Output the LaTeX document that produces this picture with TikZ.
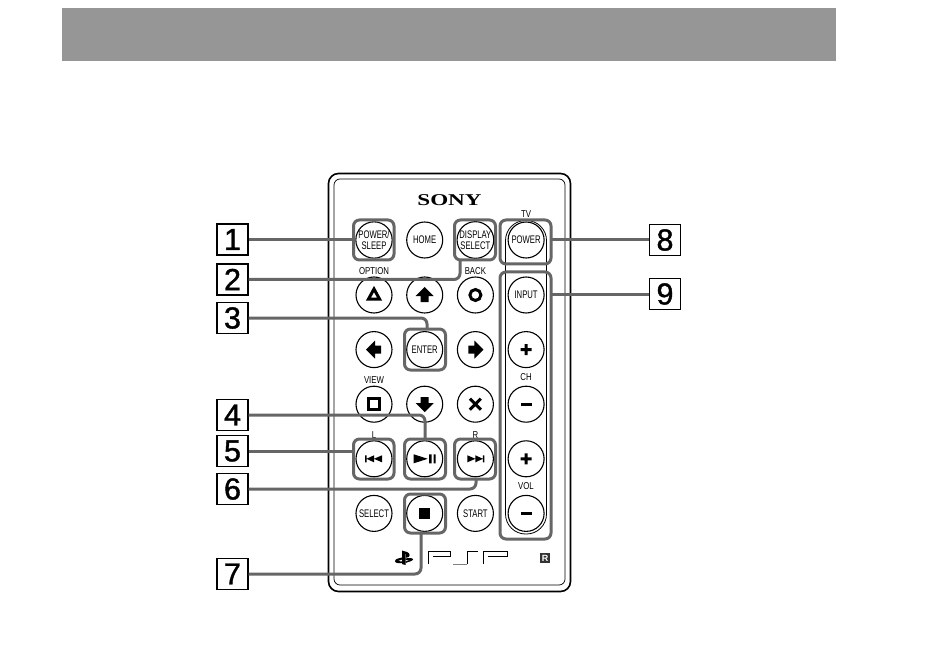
\documentclass[tikz,border=0pt]{standalone}
\usepackage{fontspec}
\setmainfont{Liberation Sans}
\setsansfont[FakeStretch=.7]{Liberation Sans}
\newfontfamily\captfont[FakeStretch=.78]{Liberation Sans}
\newfontfamily\numfont[FakeBold=1.2]{Liberation Sans}
\newfontfamily\logofont[FakeStretch=1.4]{Liberation Serif}
\usetikzlibrary{positioning}
\definecolor{bandgray}{HTML}{969696}
\definecolor{markgray}{HTML}{666666}
\tikzset{
    btn/.style={draw, line width=1.1pt, circle, minimum size=36pt, inner sep=0pt,
        align=center, font=\sffamily\fontsize{11}{10.5}\selectfont},
    capt/.style={font=\captfont\fontsize{10}{10}\selectfont, inner sep=0pt},
    num/.style={draw, line width=1.1pt, minimum size=31pt, inner sep=0pt,
        font=\numfont\fontsize{30.5}{30.5}\selectfont},
    markbox/.style={draw=markgray, line width=3pt, rounded corners=6pt},
    lead/.style={draw=markgray, line width=3pt, rounded corners=6pt},
    glyph/.style={fill=black, draw=none}
}
\begin{document}
\begin{tikzpicture}[x=1pt, y=-1pt, on grid, node distance=54.6pt and 50.7pt]
    \useasboundingbox (0,0) rectangle (950,652);
    % band
    \fill[bandgray] (62,8) rectangle (836,61);
    % body
    \draw[line width=1.6pt, rounded corners=10pt] (328.5,173.5) rectangle (570.5,591.5);
    \draw[line width=.7pt, rounded corners=6pt] (334,179) rectangle (565,585);
    \draw[line width=.8pt, rounded corners=20pt] (505.5,220.5) rectangle (546.5,534);
    \node[font=\logofont\bfseries\fontsize{16.5}{16.5}\selectfont, inner sep=0pt] (sony) at (449.5,200) {SONY};
    % buttons
    \node[btn] (sleep) at (374,240) {POWER/\\SLEEP};
    \node[btn, right=of sleep] (home) {HOME};
    \node[btn, right=of home] (display) {DISPLAY\\SELECT};
    \node[btn, right=of display] (power) {POWER};
    \node[btn] (tri) at (374,295) {};
    \node[btn, right=of tri] (up) {};
    \node[btn, right=of up] (circ) {};
    \node[btn, right=of circ] (input) {INPUT};
    \node[btn, below=of tri] (left) {};
    \node[btn, right=of left] (enter) {ENTER};
    \node[btn, right=of enter] (right) {};
    \node[btn, right=of right] (chup) {};
    \node[btn, below=of left] (squ) {};
    \node[btn, right=of squ] (down) {};
    \node[btn, right=of down] (cross) {};
    \node[btn, right=of cross] (chdn) {};
    \node[btn, below=of squ] (prev) {};
    \node[btn, right=of prev] (play) {};
    \node[btn, right=of play] (next) {};
    \node[btn, right=of next] (volup) {};
    \node[btn, below=of prev] (select) {SELECT};
    \node[btn, right=of select] (stop) {};
    \node[btn, right=of stop] (start) {START};
    \node[btn, right=of start] (voldn) {};
    % captions
    \node[capt, above=24pt of tri] (option) {OPTION};
    \node[capt, above=24pt of circ] (back) {BACK};
    \node[capt] (tv) at (526,214) {TV};
    \node[capt, above=24pt of squ] (view) {VIEW};
    \node[capt, above=24pt of prev] (lbl) {L};
    \node[capt, above=24pt of next] (rbl) {R};
    \node[capt] (ch) at (526,377) {CH};
    \node[capt] (vol) at (526,486) {VOL};
    % glyphs
    \draw[line width=3pt, miter limit=10, shift={(tri)}] (0,-6) -- (5.5,4) -- (-5.5,4) -- cycle;
    \fill[glyph, shift={(up)}] (0,-8) -- (9,1) -- (4,1) -- (4,7) -- (-4,7) -- (-4,1) -- (-9,1) -- cycle;
    \draw[line width=3pt, shift={(circ)}] (0,0) circle (5.5pt);
    \fill[glyph, shift={(left)}] (-8,0) -- (1,-9) -- (1,-4) -- (7,-4) -- (7,4) -- (1,4) -- (1,9) -- cycle;
    \fill[glyph, shift={(right)}] (8,0) -- (-1,-9) -- (-1,-4) -- (-7,-4) -- (-7,4) -- (-1,4) -- (-1,9) -- cycle;
    \draw[line width=3pt, shift={(squ)}] (-5.5,-5.5) rectangle (5.5,5.5);
    \fill[glyph, shift={(down)}] (0,8) -- (9,-1) -- (4,-1) -- (4,-7) -- (-4,-7) -- (-4,-1) -- (-9,-1) -- cycle;
    \draw[line width=3pt, shift={(cross)}] (-5.5,-5.5) -- (5.5,5.5) (-5.5,5.5) -- (5.5,-5.5);
    \fill[glyph, shift={(prev)}] (-9,-3.5) rectangle (-7.5,3.5) (-7.5,0) -- (0,-3.5) -- (0,3.5) -- cycle (0,0) -- (8,-3.5) -- (8,3.5) -- cycle;
    \fill[glyph, shift={(play)}] (-11,-4.5) -- (3,0) -- (-11,4.5) -- cycle (4.5,-4.5) rectangle (6.8,4.5) (8.8,-4.5) rectangle (11,4.5);
    \fill[glyph, shift={(next)}] (9,-3.5) rectangle (7.5,3.5) (7.5,0) -- (0,-3.5) -- (0,3.5) -- cycle (0,0) -- (-8,-3.5) -- (-8,3.5) -- cycle;
    \fill[glyph, shift={(stop)}] (-5.5,-5.5) rectangle (5.5,5.5);
    \foreach \nd in {chup,volup}
        \fill[glyph, shift={(\nd)}] (-5.5,-1.5) rectangle (5.5,1.5) (-1.5,-5.5) rectangle (1.5,5.5);
    \foreach \nd in {chdn,voldn}
        \fill[glyph, shift={(\nd)}] (-5.5,-1.5) rectangle (5.5,1.5);
    % logo
    \fill[glyph] (402,550.5) -- (407,552) .. controls (410.5,553) and (410.5,557.5) .. (407,557.5) -- (406,557.5) -- (406,553.8) -- (405.5,553.8) -- (405.5,565) -- (402,564) -- cycle;
    \fill[glyph] (395,561) .. controls (395,559) and (399,558) .. (402,557.5) -- (402,559.5) -- (398,561) -- (402,561.5) -- (402,563) .. controls (398,563.5) and (395,563) .. (395,561) -- cycle;
    \fill[glyph] (405.5,558.5) .. controls (410,557.5) and (413,558) .. (413,559.5) .. controls (413,561) and (408,562) .. (405.5,563) -- (405.5,561.5) -- (410,560) -- (405.5,560) -- cycle;
    \draw[line width=1pt] (428.5,564) -- (428.5,551.5) -- (450,551.5) -- (450,556) -- (433,556);
    \draw[line width=1pt, black!50] (453,564) -- (467,564);
    \draw[line width=1pt] (467,564) -- (467,551.5) -- (478,551.5);
    \draw[line width=1pt] (483.5,564) -- (483.5,551.5) -- (507,551.5) -- (507,556) -- (488,556);
    \node[fill=black!80, text=white, font=\bfseries\fontsize{9}{9}\selectfont, minimum size=10pt, inner sep=0pt] (reg) at (545,558) {R};
    % marks
    \draw[markbox] (353.5,220) rectangle (394,260);
    \draw[markbox] (454.5,220) rectangle (495.5,260);
    \draw[markbox] (404.5,329) rectangle (445.5,370);
    \draw[markbox] (353.5,439) rectangle (394,479);
    \draw[markbox] (404.5,439) rectangle (445.5,479);
    \draw[markbox] (454.5,439) rectangle (495.5,479);
    \draw[markbox] (404.5,494) rectangle (445.5,533);
    \draw[markbox] (500,220) rectangle (551,264);
    \draw[markbox] (500,272) rectangle (551,539);
    \node[num] (n1) at (232.5,239.5) {1};
    \node[num] (n2) at (232.5,279.5) {2};
    \node[num] (n3) at (232.5,318) {3};
    \node[num] (n4) at (232.5,415) {4};
    \node[num] (n5) at (232.5,451) {5};
    \node[num] (n6) at (232.5,489) {6};
    \node[num] (n7) at (232.5,574) {7};
    \node[num] (n8) at (665,240) {8};
    \node[num] (n9) at (665,294) {9};
    % leads
    \draw[lead] (n1) -- (353.5,239.5);
    \draw[lead] (n2) -- (460,279.5) -- (460,260);
    \draw[lead] (n3) -- (427,318) -- (427,329);
    \draw[lead] (n4) -- (425,415) -- (425,439);
    \draw[lead] (n5) -- (353.5,451);
    \draw[lead] (n6) -- (476,489) -- (476,479);
    \draw[lead] (n7) -- (421,574) -- (421,533);
    \draw[lead] (n8) -- (551,240);
    \draw[lead] (n9) -- (551,294);
\end{tikzpicture}
\end{document}
